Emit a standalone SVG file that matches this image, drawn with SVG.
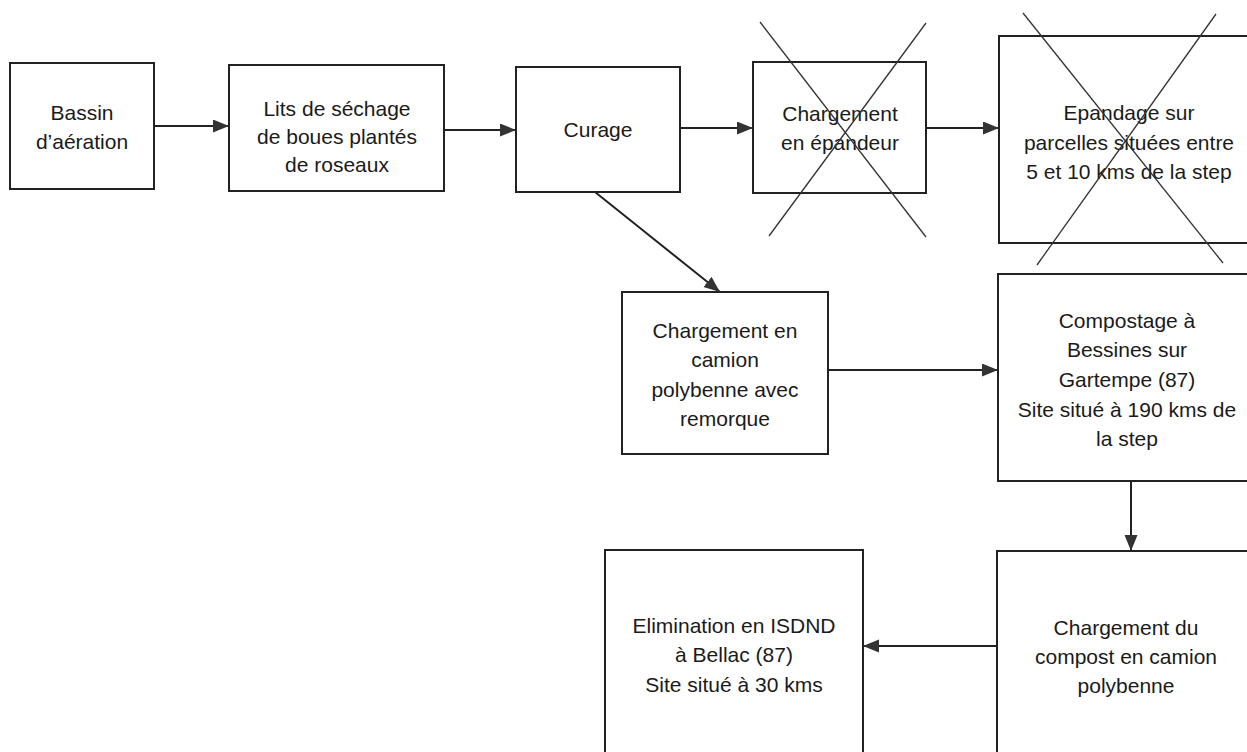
<svg xmlns="http://www.w3.org/2000/svg" width="1247" height="752" viewBox="0 0 1247 752">
  <style>
    .box { fill: #ffffff; stroke: #222222; stroke-width: 2; }
    .cross { stroke: #333333; stroke-width: 1.3; fill: none; }
    .conn { stroke: #222222; stroke-width: 2; fill: none; marker-end: url(#arrow); }
    text { font-family: "Liberation Sans", Arial, sans-serif; font-size: 21px; fill: #1a1a1a; text-anchor: middle; }
  </style>
  <defs>
    <marker id="arrow" markerUnits="userSpaceOnUse" markerWidth="17" markerHeight="14" refX="16" refY="6.5" orient="auto">
      <path d="M0,0 L16,6.5 L0,13 z" fill="#333333"/>
    </marker>
  </defs>
  <rect width="1247" height="752" fill="#ffffff"/>

  <g id="n-bassin">
    <rect class="box" x="10" y="63" width="144" height="126"/>
    <text x="82" y="120">Bassin</text>
    <text x="82" y="149">d’aération</text>
  </g>

  <g id="n-lits">
    <rect class="box" x="229" y="65" width="215" height="126"/>
    <text x="337" y="116">Lits de séchage</text>
    <text x="337" y="144">de boues plantés</text>
    <text x="337" y="172">de roseaux</text>
  </g>

  <g id="n-curage">
    <rect class="box" x="516" y="67" width="164" height="125"/>
    <text x="598" y="137">Curage</text>
  </g>

  <g id="n-epandeur">
    <rect class="box" x="753" y="62" width="173" height="131"/>
    <text x="840" y="121">Chargement</text>
    <text x="840" y="150">en épandeur</text>
    <line class="cross" x1="760" y1="22" x2="926" y2="237"/>
    <line class="cross" x1="926" y1="23" x2="769" y2="236"/>
  </g>

  <g id="n-epandage">
    <rect class="box" x="999" y="36" width="262" height="207"/>
    <text x="1129" y="120">Epandage sur</text>
    <text x="1129" y="150">parcelles situées entre</text>
    <text x="1129" y="179">5 et 10 kms de la step</text>
    <line class="cross" x1="1023" y1="13" x2="1223" y2="263"/>
    <line class="cross" x1="1216" y1="14" x2="1037" y2="265"/>
  </g>

  <g id="n-camion">
    <rect class="box" x="622" y="292" width="206" height="162"/>
    <text x="725" y="338">Chargement en</text>
    <text x="725" y="367">camion</text>
    <text x="725" y="397">polybenne avec</text>
    <text x="725" y="426">remorque</text>
  </g>

  <g id="n-compostage">
    <rect class="box" x="998" y="274" width="263" height="207"/>
    <text x="1127" y="328">Compostage à</text>
    <text x="1127" y="357">Bessines sur</text>
    <text x="1127" y="387">Gartempe (87)</text>
    <text x="1127" y="417">Site situé à 190 kms de</text>
    <text x="1127" y="446">la step</text>
  </g>

  <g id="n-compost">
    <rect class="box" x="997" y="551" width="264" height="220"/>
    <text x="1126" y="635">Chargement du</text>
    <text x="1126" y="664">compost en camion</text>
    <text x="1126" y="693">polybenne</text>
  </g>

  <g id="n-elimination">
    <rect class="box" x="605" y="550" width="258" height="220"/>
    <text x="734" y="633">Elimination en ISDND</text>
    <text x="734" y="662">à Bellac (87)</text>
    <text x="734" y="692">Site situé à 30 kms</text>
  </g>

  <g id="connectors">
    <line class="conn" x1="154" y1="126" x2="229" y2="126"/>
    <line class="conn" x1="444" y1="130" x2="516" y2="130"/>
    <line class="conn" x1="680" y1="128" x2="753" y2="128"/>
    <line class="conn" x1="926" y1="128" x2="999" y2="128"/>
    <line class="conn" x1="595" y1="192" x2="720" y2="292"/>
    <line class="conn" x1="828" y1="370" x2="998" y2="370"/>
    <line class="conn" x1="1131" y1="481" x2="1131" y2="551"/>
    <line class="conn" x1="997" y1="646" x2="863" y2="646"/>
  </g>
</svg>
